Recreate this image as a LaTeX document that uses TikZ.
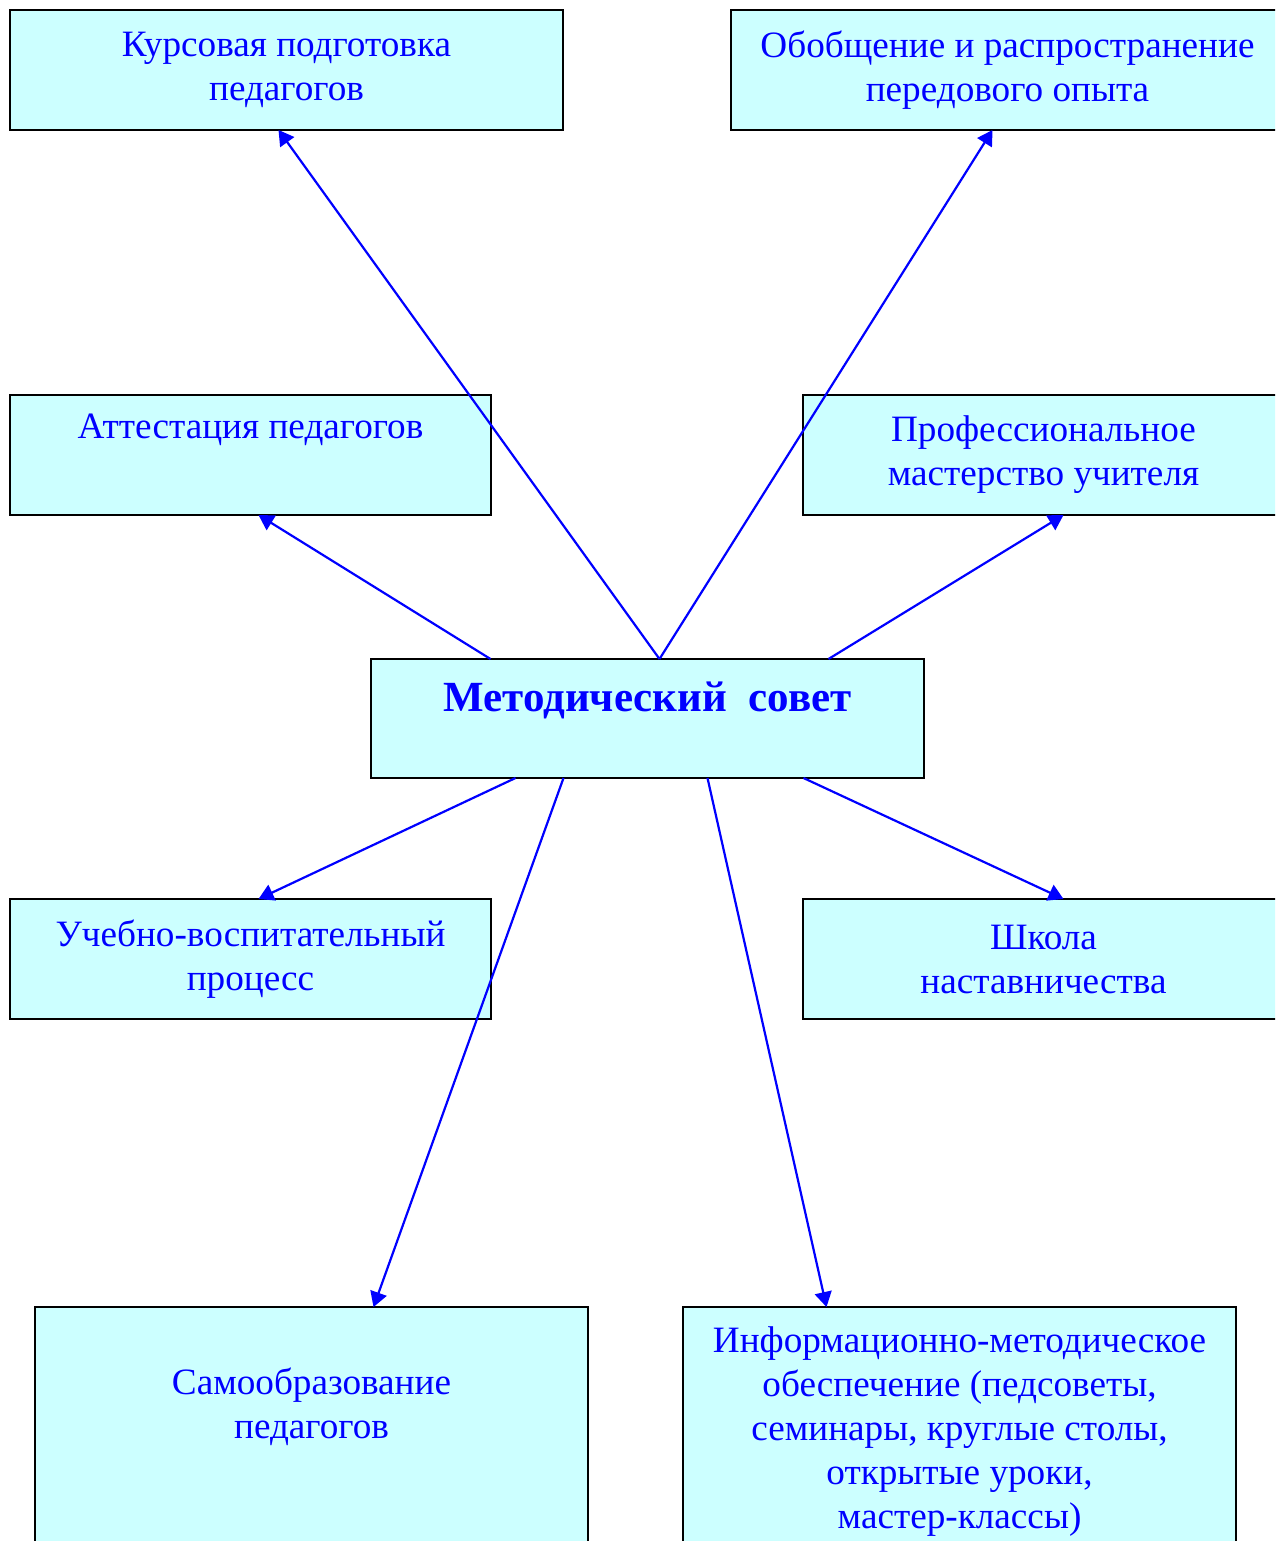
\documentclass[tikz,border=0pt]{standalone}
\usepackage{fontspec}
\setmainfont{Liberation Serif}
\usetikzlibrary{arrows.meta,calc}
\definecolor{boxcyan}{HTML}{CCFFFF}

\begin{document}
\begin{tikzpicture}[x=0.5pt,y=-0.5pt,
    box/.style={draw=black,line width=1pt,fill=boxcyan,text=blue,align=center,
        anchor=north west,inner sep=0pt,outer sep=0pt,
        font=\fontsize{18.6pt}{22pt}\selectfont},
    wide/.style={box,minimum width=276.5pt,minimum height=60pt},
    narrow/.style={box,minimum width=240.5pt,minimum height=60pt},
    link/.style={draw=blue,line width=1.1pt,-{Triangle[length=7.5pt,width=8.5pt]}}]
    \useasboundingbox (0,0) rectangle (1275,1541);
    \clip (0,0) rectangle (1275,1541);

    \node[wide] (kurs) at (10,10) {Курсовая подготовка\\педагогов};
    \node[wide] (obob) at (731,10) {Обобщение и распространение\\передового опыта};
    \node[narrow] (att) at (10,395) {Аттестация педагогов\\ \strut};
    \node[narrow] (prof) at (803,395) {Профессиональное\\мастерство учителя};
    \node[wide,minimum height=59.5pt] (metod) at (371,659)
        {{\fontsize{21.5pt}{24pt}\selectfont\bfseries Методический\ \ совет}\\[-7pt] \strut};
    \node[narrow] (uch) at (10,899) {Учебно-воспитательный\\процесс};
    \node[narrow] (shk) at (803,899) {Школа\\наставничества};
    \node[wide,minimum height=125pt] (samo) at (35,1307) {Самообразование\\педагогов\\ \strut};
    \node[wide,minimum height=125pt] (info) at (683,1307)
        {Информационно-методическое\\обеспечение (педсоветы,\\семинары, круглые столы,\\открытые уроки,\\мастер-классы)};

    \draw[link] ($(metod.north)+(-157,0)$) -- ($(att.south)+(8,0)$);
    \draw[link] ($(metod.north)+(12,0)$) -- ($(kurs.south)+(-8,0)$);
    \draw[link] ($(metod.north)+(12,0)$) -- ($(obob.south)+(-15,0)$);
    \draw[link] ($(metod.north)+(181,0)$) -- ($(prof.south)+(20,0)$);
    \draw[link] ($(metod.south)+(-132,0)$) -- ($(uch.north)+(8,0)$);
    \draw[link] ($(metod.south)+(-84,0)$) -- ($(samo.north)+(62,0)$);
    \draw[link] ($(metod.south)+(60,0)$) -- ($(info.north)+(-133,0)$);
    \draw[link] ($(metod.south)+(156,0)$) -- ($(shk.north)+(20,0)$);
\end{tikzpicture}
\end{document}
